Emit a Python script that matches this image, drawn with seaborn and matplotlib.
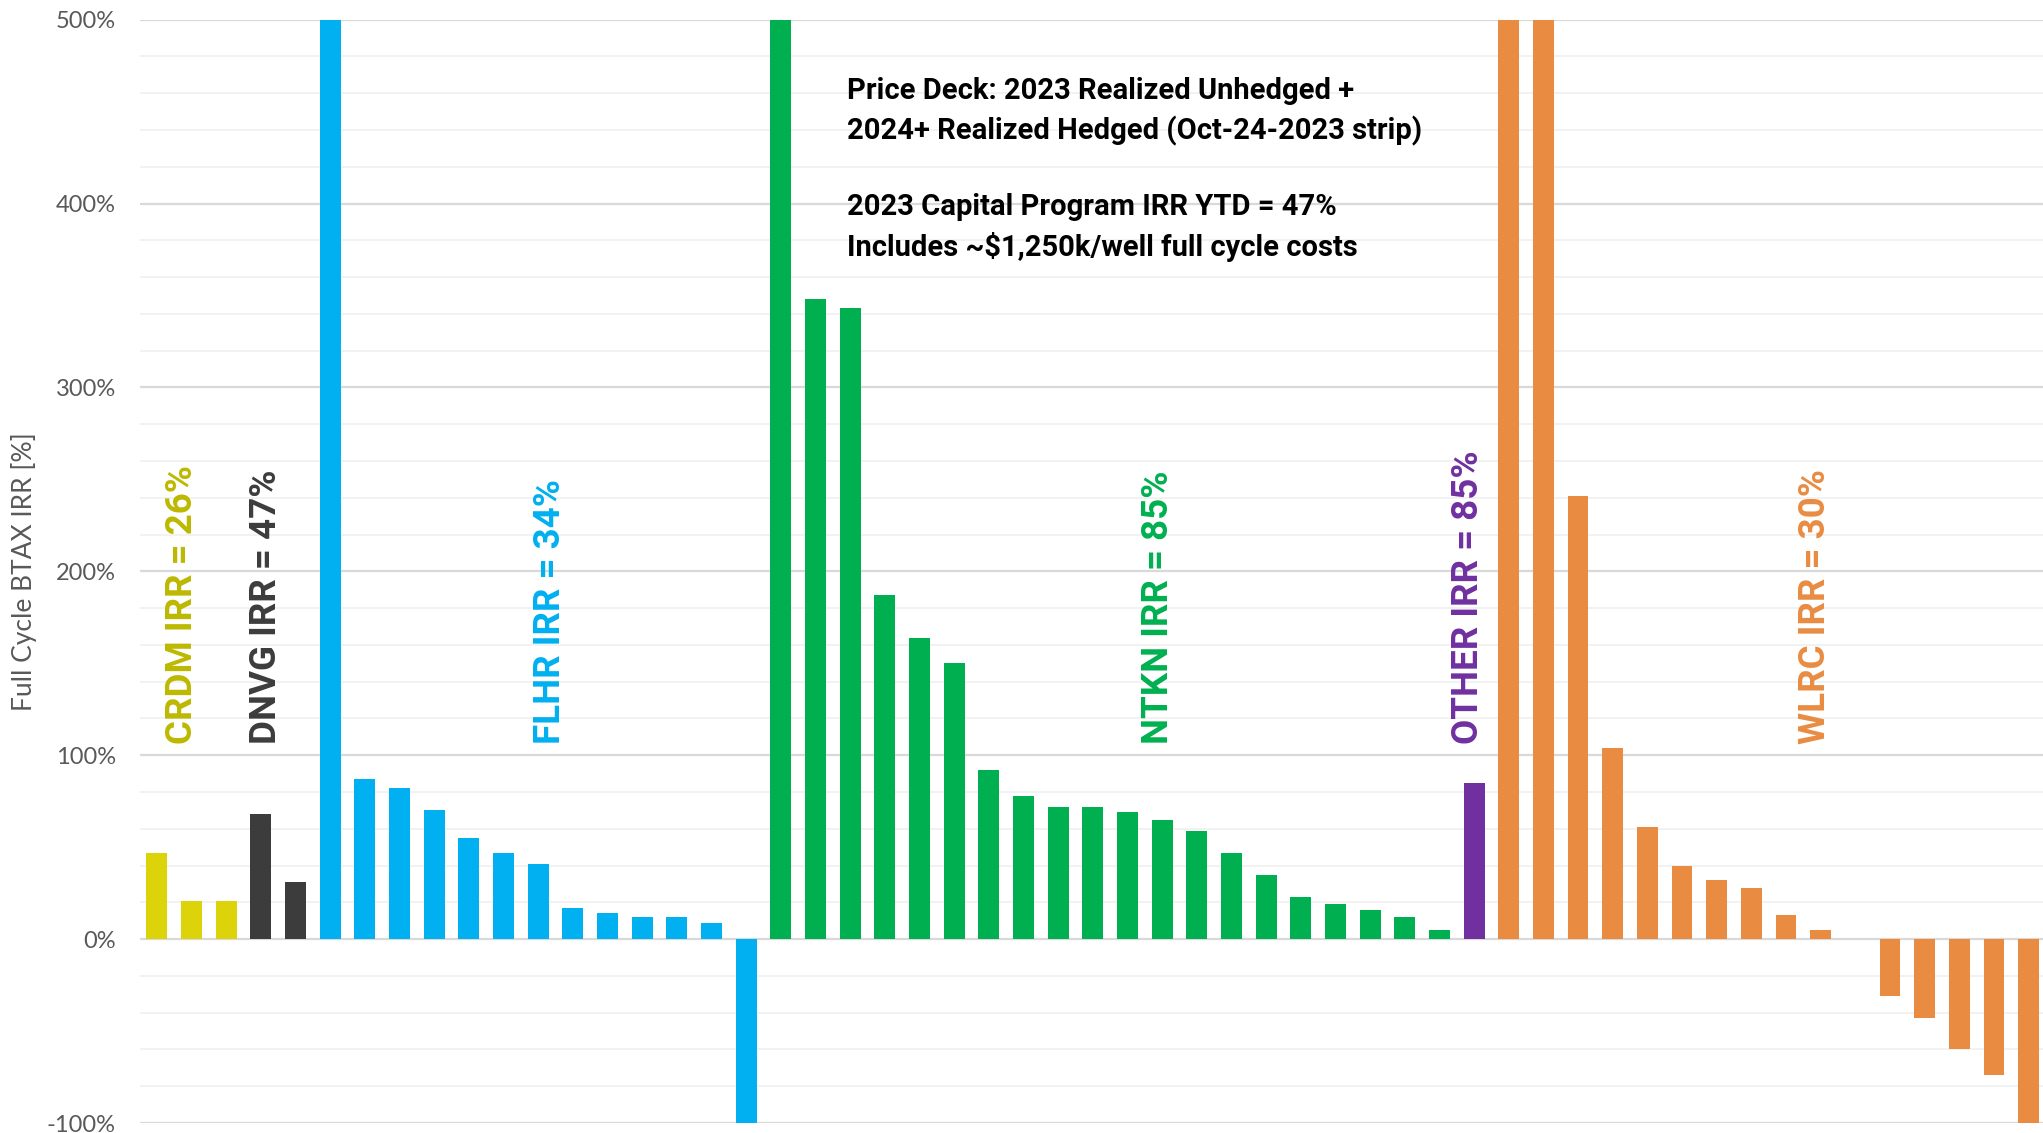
import matplotlib
matplotlib.use("Agg")
import matplotlib.pyplot as plt
import seaborn as sns
import pandas as pd
import numpy as np
from matplotlib.ticker import MultipleLocator, FuncFormatter

# ---- data ----
crdm = [47, 21, 21]
dnvg = [68, 31]
flhr = [500, 87, 82, 70, 55, 47, 41, 17, 14, 12, 12, 9, -100]
ntkn = [500, 348, 343, 187, 164, 150, 92, 78, 72, 72, 69, 65, 59, 47, 35, 23, 19, 16, 12, 5]
other = [85]
wlrc = [500, 500, 241, 104, 61, 40, 32, 28, 13, 5, 0.3, -31, -43, -60, -74, -100]

groups = ["CRDM", "DNVG", "FLHR", "NTKN", "OTHER", "WLRC"]
group_values = [crdm, dnvg, flhr, ntkn, other, wlrc]
group_irr = ["26%", "47%", "34%", "85%", "85%", "30%"]

bar_colors = {"CRDM": "#DCD30A", "DNVG": "#3C3C3C", "FLHR": "#00B0F0",
              "NTKN": "#00B050", "OTHER": "#7030A0", "WLRC": "#E98C42"}
text_colors = {"CRDM": "#BDB800", "DNVG": "#3C3C3C", "FLHR": "#00B0F0",
               "NTKN": "#00B050", "OTHER": "#7030A0", "WLRC": "#E98C42"}
label_pos = {"CRDM": 0.72, "DNVG": 3.16, "FLHR": 11.33,
             "NTKN": 28.88, "OTHER": 37.82, "WLRC": 47.84}

rows = []
for g, vals in zip(groups, group_values):
    for v in vals:
        rows.append({"group": g, "irr": v})
df = pd.DataFrame(rows)
df["well"] = [str(i) for i in range(len(df))]

sns.set_theme(style="white")
plt.rcParams["font.family"] = ["Lato", "DejaVu Sans"]
BOLD = ["Roboto", "DejaVu Sans"]

fig = plt.figure(figsize=(20.43, 11.33), dpi=100)
ax = fig.add_axes([0.0683, 0.0088, 0.9332, 0.9739])

sns.barplot(data=df, x="well", y="irr", hue="group", palette=bar_colors,
            dodge=False, width=0.6, legend=False, ax=ax, saturation=1,
            edgecolor="none", zorder=3)

ax.set_ylim(-100, 500)
ax.set_xlim(-0.5, len(df) - 0.5)
ax.yaxis.set_major_locator(MultipleLocator(100))
ax.yaxis.set_minor_locator(MultipleLocator(20))
ax.yaxis.set_major_formatter(FuncFormatter(lambda v, p: f"{v:.0f}%"))
ax.grid(axis="y", which="major", color="#D9D9D9", linewidth=1.6, zorder=0)
ax.grid(axis="y", which="minor", color="#F2F2F2", linewidth=1.4, zorder=0)
ax.grid(axis="x", visible=False)
ax.set_axisbelow(True)
for s in ax.spines.values():
    s.set_visible(False)
ax.set_xticks([])
ax.set_xlabel("")
ax.tick_params(axis="y", which="both", length=0, pad=17, labelsize=17,
               labelcolor="#595959")
ax.set_ylabel("Full Cycle BTAX IRR [%]", fontsize=19, color="#595959")
ax.yaxis.set_label_coords(-0.054, 0.5)

for g, irr in zip(groups, group_irr):
    ax.text(label_pos[g], 106, f"{g} IRR = {irr}", rotation=90,
            ha="center", va="bottom", fontsize=26.5, fontweight="bold",
            family=BOLD, color=text_colors[g], zorder=4)

ax.text(0.371, 0.948,
        "Price Deck: 2023 Realized Unhedged +\n"
        "2024+ Realized Hedged (Oct-24-2023 strip)\n\n"
        "2023 Capital Program IRR YTD = 47%\n"
        "Includes ~$1,250k/well full cycle costs",
        transform=ax.transAxes, ha="left", va="top", fontsize=21,
        fontweight="bold", family=BOLD, color="#000000", linespacing=1.45,
        zorder=5)

fig.savefig("out.png", dpi=100)
